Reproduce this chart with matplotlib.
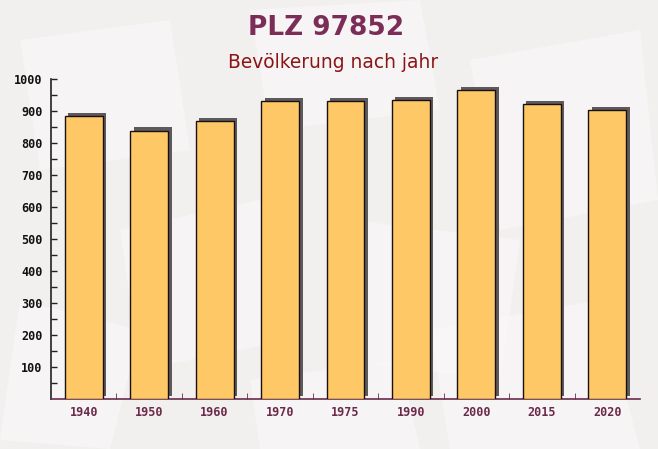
import matplotlib
matplotlib.use("Agg")
import matplotlib.pyplot as plt
import matplotlib.transforms as mtransforms
from matplotlib.patches import Polygon
import numpy as np

years = ["1940", "1950", "1960", "1970", "1975", "1990", "2000", "2015", "2020"]
population = [885, 839, 869, 931, 931, 934, 966, 922, 903]
y_ticks = [100, 200, 300, 400, 500, 600, 700, 800, 900, 1000]

W, H = 658, 449
fig = plt.figure(figsize=(W / 100, H / 100), dpi=100)
fig.patch.set_facecolor("#f2efef")

# faint background shapes
bg = fig.add_axes([0, 0, 1, 1], zorder=-10)
bg.set_xlim(0, W); bg.set_ylim(H, 0); bg.axis("off")
shapes = [
    [(20, 40), (170, 20), (190, 150), (40, 170)],
    [(250, 10), (420, 0), (440, 110), (270, 130)],
    [(470, 60), (640, 30), (658, 200), (500, 230)],
    [(120, 230), (260, 200), (290, 340), (140, 370)],
    [(350, 220), (520, 240), (500, 380), (330, 360)],
    [(20, 300), (140, 330), (110, 449), (0, 440)],
    [(430, 330), (600, 300), (640, 449), (450, 449)],
    [(250, 380), (400, 360), (420, 449), (260, 449)],
]
for s in shapes:
    bg.add_patch(Polygon(s, closed=True, facecolor="#faf8f8", edgecolor="none", alpha=0.6))

ax = fig.add_axes([51 / W, (H - 399.3) / H, (640 - 51) / W, 320 / H])
ax.set_facecolor("none")
x = np.arange(len(years))
bw = 0.58

# 3D shadow
shadow_tr = mtransforms.offset_copy(ax.transData, fig=fig, x=3.5, y=3.5, units="dots")
ax.bar(x, population, width=bw, color="#5e5a5c", edgecolor="none", transform=shadow_tr, zorder=2)
ax.bar(x, population, width=bw, color="#fec867", edgecolor="#1a1010", linewidth=1.0, zorder=3)

ax.set_xlim(-0.5, len(years) - 0.5)
ax.set_ylim(0, 1000)
ax.set_yticks(y_ticks)
ax.set_yticks(np.arange(50, 1000, 100), minor=True)
ax.set_yticklabels([str(v) for v in y_ticks], fontfamily="DejaVu Sans Mono",
                   fontweight="bold", fontsize=8.5, color="#111111")
ax.tick_params(axis="y", which="both", direction="in", length=4, width=1, color="#222222", pad=6)

ax.set_xticks(x)
ax.set_xticklabels(years, fontfamily="DejaVu Sans Mono", fontweight="bold",
                   fontsize=8.5, color="#6b2a4a")
ax.tick_params(axis="x", which="major", length=0, pad=5)
ax.set_xticks(np.arange(0.5, len(years) - 0.5, 1), minor=True)
ax.tick_params(axis="x", which="minor", direction="in", length=4, color="#6b2a4a")

for s in ["top", "right"]:
    ax.spines[s].set_visible(False)
ax.spines["left"].set_color("#222222")
ax.spines["bottom"].set_color("#6b2a4a")
ax.spines["left"].set_linewidth(1.2)
ax.spines["bottom"].set_linewidth(1.2)

fig.text(326 / W, 1 - 28 / H, "PLZ 97852", ha="center", va="center",
         fontsize=19, fontweight="bold", color="#7b2d58", fontfamily="DejaVu Sans")
fig.text(333 / W, 1 - 62 / H, "Bevölkerung nach jahr", ha="center", va="center",
         fontsize=13.4, color="#8b1414", fontfamily="DejaVu Sans")

fig.savefig("out.png", dpi=100, facecolor=fig.get_facecolor())
